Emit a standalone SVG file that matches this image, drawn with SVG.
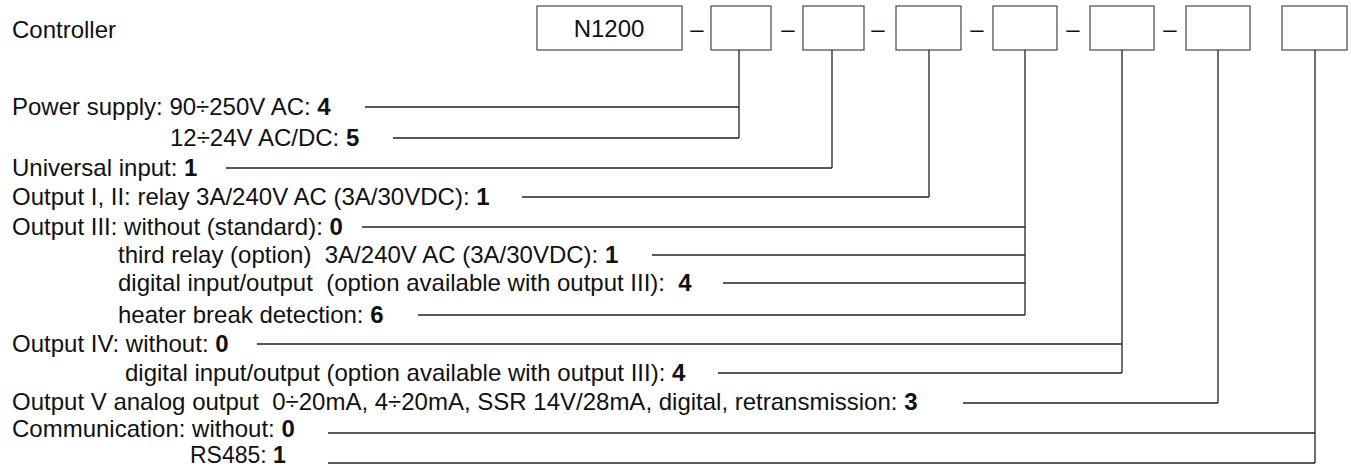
<svg xmlns="http://www.w3.org/2000/svg" width="1351" height="468" viewBox="0 0 1351 468">
<style>
text{font-family:"Liberation Sans",Arial,sans-serif;font-size:24px;fill:#111;white-space:pre}
.b{font-weight:bold}
.box{fill:#fff;stroke:#555;stroke-width:1.3}
.c{fill:none;stroke:#222;stroke-width:1.3}
.d{text-anchor:middle}
</style>
<rect width="1351" height="468" fill="#fff"/>
<g id="code">
<text x="12" y="38">Controller</text>
<g id="box-n1200"><rect class="box" x="537" y="6" width="145" height="44"/><text class="d" x="609" y="37">N1200</text></g>
<text class="d" x="697" y="37">–</text>
<g id="box-1"><rect class="box" x="711" y="6" width="60" height="44"/></g>
<text class="d" x="788" y="37">–</text>
<g id="box-2"><rect class="box" x="803" y="6" width="61" height="44"/></g>
<text class="d" x="878" y="37">–</text>
<g id="box-3"><rect class="box" x="896" y="6" width="65" height="44"/></g>
<text class="d" x="977" y="37">–</text>
<g id="box-4"><rect class="box" x="993" y="6" width="64" height="44"/></g>
<text class="d" x="1073" y="37">–</text>
<g id="box-5"><rect class="box" x="1090" y="6" width="64" height="44"/></g>
<text class="d" x="1170" y="37">–</text>
<g id="box-6"><rect class="box" x="1186" y="6" width="64" height="44"/></g>
<g id="box-7"><rect class="box" x="1282" y="6" width="65" height="44"/></g>
</g>
<g id="labels">
<g id="power"><text x="12" y="115">Power supply: 90÷250V AC: <tspan class="b">4</tspan></text>
<text x="170" y="146">12÷24V AC/DC: <tspan class="b">5</tspan></text></g>
<g id="input"><text x="12" y="176">Universal input: <tspan class="b">1</tspan></text></g>
<g id="out12"><text x="12" y="205">Output I, II: relay 3A/240V AC (3A/30VDC): <tspan class="b">1</tspan></text></g>
<g id="out3"><text x="12" y="235">Output III: without (standard): <tspan class="b">0</tspan></text>
<text x="118" y="263">third relay (option)  3A/240V AC (3A/30VDC): <tspan class="b">1</tspan></text>
<text x="118" y="291">digital input/output  (option available with output III):  <tspan class="b">4</tspan></text>
<text x="118" y="323">heater break detection: <tspan class="b">6</tspan></text></g>
<g id="out4"><text x="12" y="352">Output IV: without: <tspan class="b">0</tspan></text>
<text x="125" y="381">digital input/output (option available with output III): <tspan class="b">4</tspan></text></g>
<g id="out5"><text x="12" y="410">Output V analog output  0÷20mA, 4÷20mA, SSR 14V/28mA, digital, retransmission: <tspan class="b">3</tspan></text></g>
<g id="comm"><text x="12" y="437">Communication: without: <tspan class="b">0</tspan></text>
<text x="190" y="463" style="font-size:23px">RS485: <tspan class="b">1</tspan></text></g>
</g>
<g id="connectors">
<path class="c" d="M739 50V138M365 107H739M393 138H739"/>
<path class="c" d="M832 50V168M226 168H832"/>
<path class="c" d="M929 50V197M522 197H929"/>
<path class="c" d="M1025 50V315M362 227H1025M652 255H1025M723 283H1025M418 315H1025"/>
<path class="c" d="M1122 50V373M257 344H1122M718 373H1122"/>
<path class="c" d="M1218 50V403M963 403H1218"/>
<path class="c" d="M1315 50V463M328 433H1315M328 463H1315"/>
</g>
</svg>
